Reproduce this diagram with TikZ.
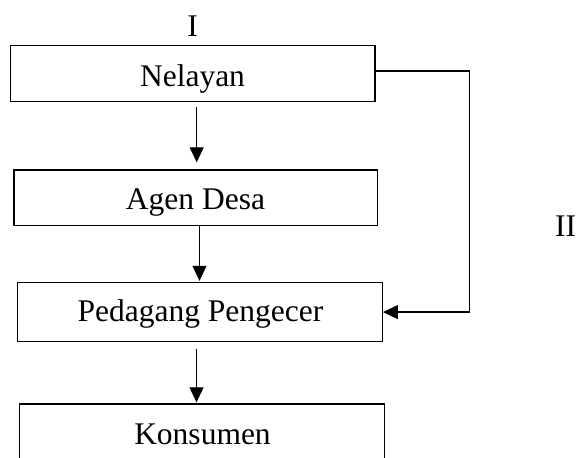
\documentclass[tikz,border=0pt]{standalone}
\usepackage{fontspec}
\setmainfont{Liberation Serif}
\usetikzlibrary{arrows.meta}
\begin{document}
\begin{tikzpicture}[x=1pt,y=-1pt,
  box/.style={draw,line width=1.3pt,inner sep=0pt},
  lab/.style={font=\fontsize{31.5}{36}\selectfont,inner sep=0pt,anchor=base},
  arr/.style={line width=1pt,-{Triangle[length=15pt,width=14pt]}}]
\useasboundingbox (0,0) rectangle (576,458);
\clip (0,0) rectangle (576,458);
\node[box,minimum width=364.7pt,minimum height=55.6pt] (nel) at (192.7,73.5) {};
\node[box,minimum width=363.7pt,minimum height=55.7pt] (ag) at (195.8,197.8) {};
\node[box,minimum width=364.6pt,minimum height=59.2pt] (ped) at (200,312.1) {};
\node[box,minimum width=365pt,minimum height=59pt] (kon) at (202,433.5) {};
\node[lab] (tnel) at (192.5,86) {Nelayan};
\node[lab] (tag) at (195.5,209.3) {Agen Desa};
\node[lab] (tped) at (200.5,321.7) {Pedagang Pengecer};
\node[lab] (tkon) at (202.5,444) {Konsumen};
\node[lab] (l1) at (192.7,36.7) {I};
\node[lab] (l2) at (565.5,236.7) {II};
\coordinate (rt) at (469.3,0);
\draw[arr,shorten <=5.5pt,shorten >=7pt] ([xshift=4pt]nel.south) -- ([xshift=4pt]nel.south |- ag.north);
\draw[arr,shorten >=1pt] ([xshift=3.7pt]ag.south) -- ([xshift=3.7pt]ag.south |- ped.north);
\draw[arr,shorten <=6.3pt,shorten >=1pt] ([xshift=-3.5pt]ped.south) -- ([xshift=-3.5pt]ped.south |- kon.north);
\draw[box,-{Triangle[length=15pt,width=14pt]}] ([yshift=2.5pt]nel.east) -| (rt |- ped.east) -- (ped.east);
\end{tikzpicture}
\end{document}
